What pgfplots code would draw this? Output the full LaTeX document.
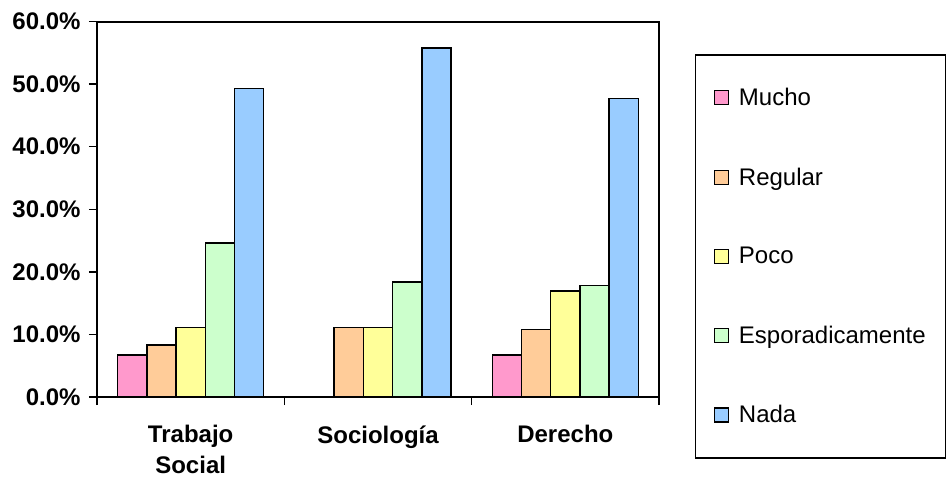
\documentclass[border=0pt]{standalone}
\usepackage{pgfplots}
\pgfplotsset{compat=1.18}
\usepackage{fontspec}
\setmainfont{Liberation Sans}
\definecolor{cMucho}{HTML}{FF99CC}
\definecolor{cRegular}{HTML}{FFCC99}
\definecolor{cPoco}{HTML}{FFFF99}
\definecolor{cEsp}{HTML}{CCFFCC}
\definecolor{cNada}{HTML}{99CCFF}
\begin{document}
\begin{tikzpicture}
\useasboundingbox (0pt,0pt) rectangle (947pt,479pt);
\begin{axis}[
  at={(97pt,82pt)}, anchor=south west,
  scale only axis, width=562pt, height=375.5pt,
  xmin=-0.5, xmax=2.5, ymin=0, ymax=60,
  ybar=0pt, bar width=0.156,
  xtick={0,1,2},
  xticklabels={{Trabajo\\Social},{Sociología},{Derecho}},
  minor xtick={-0.5,0.5,1.5,2.5},
  ytick={0,10,20,30,40,50,60},
  yticklabels={0.0\%,10.0\%,20.0\%,30.0\%,40.0\%,50.0\%,60.0\%},
  tick align=outside, tick pos=left,
  major tick length=8pt, minor tick length=8pt,
  major x tick style={draw=none},
  every tick/.style={black, line width=1.5pt},
  axis line style={black, line width=2pt},
  x tick label style={align=center, font=\fontsize{24}{31}\selectfont\bfseries, yshift=-17pt},
  y tick label style={font=\fontsize{24}{28}\selectfont\bfseries, xshift=-5pt},
  legend style={at={(1.064,0.913)}, anchor=north west, draw=black, line width=1.5pt,
    font=\fontsize{24}{28}\selectfont, row sep=56.6pt, inner xsep=18pt, inner ysep=31.5pt,
    /tikz/every odd column/.append style={column sep=8pt}},
  legend cell align=left,
  legend image code/.code={\draw[#1,line width=1.2pt] (0pt,-7pt) rectangle (14pt,7pt);},
  every axis plot/.append style={draw=black, line width=1.5pt},
]
\addplot[fill=cMucho] coordinates {(0,6.7) (2,6.7)};
\addplot[fill=cRegular] coordinates {(0,8.3) (1,11.1) (2,10.8)};
\addplot[fill=cPoco] coordinates {(0,11.1) (1,11.1) (2,16.9)};
\addplot[fill=cEsp] coordinates {(0,24.6) (1,18.4) (2,17.8)};
\addplot[fill=cNada] coordinates {(0,49.3) (1,55.8) (2,47.7)};
\legend{Mucho,Regular,Poco,Esporadicamente,Nada}
\end{axis}
\end{tikzpicture}
\end{document}
